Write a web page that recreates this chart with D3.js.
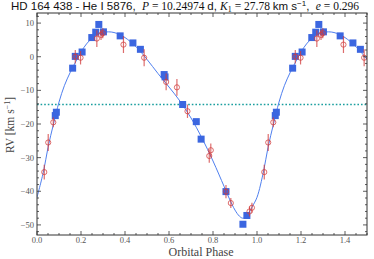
<!DOCTYPE html>
<html>
<head>
<meta charset="utf-8">
<script src="https://cdn.jsdelivr.net/npm/d3@7"></script>
<style>
  body { margin: 0; background: #fff; }
  svg { display: block; }
  text { white-space: pre; }
</style>
</head>
<body>
<script>
// orbital solution curve (one period, repeated at phase + 1)
var curvePhase = [0.00, 0.03, 0.05, 0.075, 0.10, 0.125, 0.15, 0.175, 0.20, 0.225, 0.25, 0.275, 0.30, 0.325, 0.35, 0.375, 0.40, 0.45, 0.50, 0.55, 0.60, 0.65, 0.70, 0.75, 0.80, 0.85, 0.875, 0.90, 0.92, 0.935, 0.95, 0.965, 0.98, 1.00];
var curveRV    = [-41.8, -34.0, -27.0, -20.0, -13.5, -8.5, -4.8, -1.6, 1.4, 3.8, 5.5, 6.6, 7.2, 7.4, 7.2, 6.6, 5.7, 3.0, -0.8, -5.0, -9.0, -13.2, -18.2, -24.2, -31.0, -38.5, -42.3, -45.6, -47.4, -48.0, -47.5, -46.2, -44.4, -41.8];

// blue squares
var sqPhase = [0.083, 0.088, 0.162, 0.174, 0.205, 0.249, 0.267, 0.281, 0.302, 0.378, 0.436, 0.470, 0.578, 0.582, 0.662, 0.724, 0.746, 0.859, 0.936, 0.954];
var sqRV    = [-17.5, -16.5, -3.4, 0.1, 1.4, 5.7, 7.3, 9.6, 7.4, 6.2, 4.1, 2.2, -5.3, -6.0, -14.2, -19.3, -24.5, -40.1, -49.8, -47.2];

// red open circles with error bars
var cPhase = [0.033, 0.051, 0.074, 0.174, 0.198, 0.272, 0.291, 0.299, 0.393, 0.487, 0.587, 0.636, 0.684, 0.783, 0.790, 0.859, 0.881, 0.966, 0.977];
var cRV    = [-34.3, -25.5, -19.5, 0.0, -0.3, 5.4, 6.5, 7.0, 3.6, -0.3, -7.5, -9.1, -16.2, -29.5, -27.8, -40.1, -43.5, -46.0, -44.9];
var cErr   = [2.2, 2.5, 1.5, 2.0, 2.0, 2.5, 1.5, 1.5, 2.5, 2.5, 2.5, 2.5, 2.0, 2.0, 2.0, 2.0, 1.5, 1.5, 1.5];

var gammaRV = -14.2;

var xTicks = [0.0, 0.2, 0.4, 0.6, 0.8, 1.0, 1.2, 1.4];
var yTicks = [-50, -40, -30, -20, -10, 0, 10];

var width = 374, height = 259;
var mLeft = 37, mRight = 367, mTop = 13, mBottom = 235;
var serif = "'Liberation Serif', 'DejaVu Serif', serif";
var sans = "'Liberation Sans', Arial, sans-serif";

var svg = d3.select("body").append("svg")
  .attr("width", width)
  .attr("height", height);

var x = d3.scaleLinear().domain([0, 1.5]).range([mLeft, mRight]);
var y = d3.scaleLinear().domain([-53, 13]).range([mBottom, mTop]);

// repeat a phased series one period further, keep what falls in the window
function unfold(ph, vals) {
  var out = [];
  for (var k = 0; k < 2; k++) {
    for (var i = 0; i < ph.length; i++) {
      var p = ph[i] + k;
      if (p <= 1.5) out.push({p: p, v: vals[i], i: i});
    }
  }
  return out;
}

svg.append("defs").append("clipPath").attr("id", "clip")
  .append("rect").attr("x", mLeft).attr("y", mTop)
  .attr("width", mRight - mLeft).attr("height", mBottom - mTop);
var plot = svg.append("g").attr("clip-path", "url(#clip)");

// systemic velocity
plot.append("line")
  .attr("x1", mLeft).attr("x2", mRight)
  .attr("y1", y(gammaRV)).attr("y2", y(gammaRV))
  .attr("stroke", "#1a9e9e")
  .attr("stroke-width", 1.6)
  .attr("stroke-dasharray", "1.6,2");

// model curve
var cpts = [];
for (var k = 0; k < 2; k++) {
  for (var i = 0; i < curvePhase.length; i++) {
    if (k == 1 && i == 0) continue;
    if (curvePhase[i] + k <= 1.55) cpts.push({p: curvePhase[i] + k, v: curveRV[i]});
  }
}
plot.append("path")
  .datum(cpts)
  .attr("fill", "none")
  .attr("stroke", "#4f7fef")
  .attr("stroke-width", 1)
  .attr("d", d3.line()
    .x(function(d) { return x(d.p); })
    .y(function(d) { return y(d.v); })
    .curve(d3.curveCatmullRom));

// blue squares
var sqSize = 7;
plot.selectAll("rect.sq")
  .data(unfold(sqPhase, sqRV))
  .enter().append("rect")
  .attr("class", "sq")
  .attr("x", function(d) { return x(d.p) - sqSize / 2; })
  .attr("y", function(d) { return y(d.v) - sqSize / 2; })
  .attr("width", sqSize).attr("height", sqSize)
  .attr("fill", "#3b66e0");

// red circles + error bars
var cdata = unfold(cPhase, cRV);
var cg = plot.selectAll("g.c")
  .data(cdata)
  .enter().append("g")
  .attr("class", "c");
cg.append("line")
  .attr("x1", function(d) { return x(d.p); })
  .attr("x2", function(d) { return x(d.p); })
  .attr("y1", function(d) { return y(d.v - cErr[d.i]); })
  .attr("y2", function(d) { return y(d.v + cErr[d.i]); })
  .attr("stroke", "#d23c3c")
  .attr("stroke-opacity", 0.75)
  .attr("stroke-width", 1.2);
cg.append("circle")
  .attr("cx", function(d) { return x(d.p); })
  .attr("cy", function(d) { return y(d.v); })
  .attr("r", 2.6)
  .attr("fill", "none")
  .attr("stroke", "#d23c3c")
  .attr("stroke-opacity", 0.75)
  .attr("stroke-width", 1);

// frame
svg.append("rect")
  .attr("x", mLeft).attr("y", mTop)
  .attr("width", mRight - mLeft).attr("height", mBottom - mTop)
  .attr("fill", "none")
  .attr("stroke", "#333")
  .attr("stroke-width", 1);

// ticks, pointing inward on all four sides
var ticks = svg.append("g").attr("stroke", "#333").attr("stroke-width", 0.8);
var xMinor = d3.range(0, 1.501, 0.05);
var yMinor = d3.range(-52, 13, 2);
xMinor.forEach(function(t) {
  var major = Math.abs(t * 5 - Math.round(t * 5)) < 1e-6;
  var len = major ? 4 : 2;
  ticks.append("line").attr("x1", x(t)).attr("x2", x(t)).attr("y1", mBottom).attr("y2", mBottom - len);
  ticks.append("line").attr("x1", x(t)).attr("x2", x(t)).attr("y1", mTop).attr("y2", mTop + len);
});
yMinor.forEach(function(t) {
  var len = (t % 10 == 0) ? 4 : 2;
  ticks.append("line").attr("y1", y(t)).attr("y2", y(t)).attr("x1", mLeft).attr("x2", mLeft + len);
  ticks.append("line").attr("y1", y(t)).attr("y2", y(t)).attr("x1", mRight).attr("x2", mRight - len);
});

// tick labels
svg.selectAll("text.xt")
  .data(xTicks)
  .enter().append("text")
  .attr("x", function(d) { return x(d); })
  .attr("y", mBottom + 8)
  .attr("text-anchor", "middle")
  .attr("font-family", serif)
  .attr("font-size", 8.5)
  .attr("fill", "#555")
  .text(function(d) { return d.toFixed(1); });

svg.selectAll("text.yt")
  .data(yTicks)
  .enter().append("text")
  .attr("x", mLeft - 3)
  .attr("y", function(d) { return y(d) + 3; })
  .attr("text-anchor", "end")
  .attr("font-family", serif)
  .attr("font-size", 8.5)
  .attr("fill", "#555")
  .text(function(d) { return d < 0 ? "\u2212" + (-d) : d; });

// axis labels
svg.append("text")
  .attr("x", 201)
  .attr("y", 256)
  .attr("text-anchor", "middle")
  .attr("font-family", serif)
  .attr("font-size", 12)
  .attr("fill", "#444")
  .text("Orbital Phase");

var yl = svg.append("text")
  .attr("transform", "translate(14,125) rotate(-90)")
  .attr("text-anchor", "middle")
  .attr("font-family", serif)
  .attr("font-size", 11.5)
  .attr("fill", "#444");
yl.append("tspan").text("RV [km s");
yl.append("tspan").attr("font-size", 8).attr("dy", -4).text("\u22121");
yl.append("tspan").attr("dy", 4).text("]");

// title
var tt = svg.append("text")
  .attr("x", 185).attr("y", 10)
  .attr("text-anchor", "middle")
  .attr("font-size", 11.5)
  .attr("fill", "#111");
tt.append("tspan").attr("font-family", sans).text("HD 164 438 - He I 5876,  ");
tt.append("tspan").attr("font-family", serif).attr("font-style", "italic").text("P");
tt.append("tspan").attr("font-family", serif).text(" = 10.24974 ");
tt.append("tspan").attr("font-family", sans).text("d, ");
tt.append("tspan").attr("font-family", serif).attr("font-style", "italic").text("K");
tt.append("tspan").attr("font-family", serif).attr("font-size", 8).attr("dy", 2).text("1");
tt.append("tspan").attr("font-family", serif).attr("dy", -2).text(" = 27.78 ");
tt.append("tspan").attr("font-family", sans).text("km s");
tt.append("tspan").attr("font-family", sans).attr("font-size", 8).attr("dy", -4).text("\u22121");
tt.append("tspan").attr("font-family", sans).attr("dy", 4).text(",  ");
tt.append("tspan").attr("font-family", serif).attr("font-style", "italic").text("e");
tt.append("tspan").attr("font-family", serif).text(" = 0.296");
</script>
</body>
</html>
